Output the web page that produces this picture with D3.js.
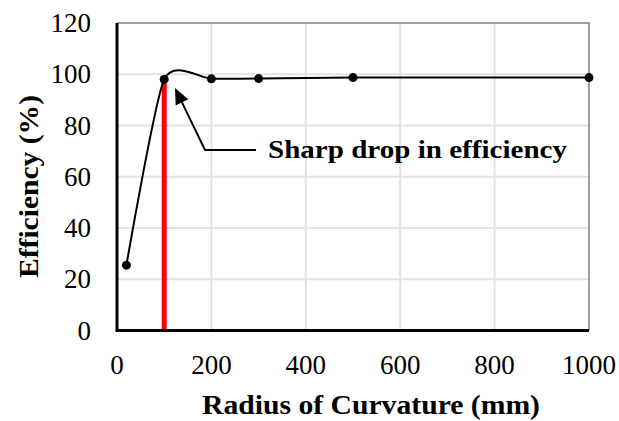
<!DOCTYPE html>
<html><head><meta charset="utf-8">
<script src="https://cdn.jsdelivr.net/npm/d3@7"></script>
<style>html,body{margin:0;padding:0;background:#fff;}svg{display:block;}</style>
</head><body>
<svg id="c" width="619" height="421"></svg>
<script>
const radius = [20, 100, 200, 300, 500, 1000];
const efficiency = [25.5, 98, 98.2, 98.3, 98.7, 98.7];
const xTicks = [0, 200, 400, 600, 800, 1000];
const yTicks = [0, 20, 40, 60, 80, 100, 120];
const markerX = 100;
const annotation = "Sharp drop in efficiency";
const xTitle = "Radius of Curvature (mm)";
const yTitle = "Efficiency (%)";

const svg = d3.select("#c");
const L = 117, R = 589, T = 23, B = 330.5;
const x = d3.scaleLinear().domain([0, 1000]).range([L, R]);
const y = d3.scaleLinear().domain([0, 120]).range([B, T]);
const font = "'Liberation Serif','Times New Roman',serif";

// gridlines
svg.append("g").selectAll("line").data(xTicks.slice(1, -1)).join("line")
  .attr("x1", d => x(d)).attr("x2", d => x(d)).attr("y1", T).attr("y2", B)
  .attr("stroke", "#e3e3e3").attr("stroke-width", 2);
svg.append("g").selectAll("line").data(yTicks.slice(1, -1)).join("line")
  .attr("y1", d => y(d)).attr("y2", d => y(d)).attr("x1", L).attr("x2", R)
  .attr("stroke", "#e3e3e3").attr("stroke-width", 2);

// top/right border
svg.append("path").attr("d", `M${L},${T}H${R}V${B}`).attr("fill", "none")
  .attr("stroke", "#7f7f7f").attr("stroke-width", 1.5);

// red vertical line
const iMark = radius.indexOf(markerX);
svg.append("line").attr("x1", x(markerX)).attr("x2", x(markerX))
  .attr("y1", y(0)).attr("y2", y(efficiency[iMark]))
  .attr("stroke", "#ff0000").attr("stroke-width", 5);

// axes (thick black left & bottom)
svg.append("path").attr("d", `M${L},${T}V${B}H${R}`).attr("fill", "none")
  .attr("stroke", "#000").attr("stroke-width", 3);

// smooth line
const pts = radius.map((r, i) => [x(r), y(efficiency[i])]);
svg.append("path").attr("d", d3.line().curve(d3.curveCardinal.tension(0.35))(pts))
  .attr("fill", "none").attr("stroke", "#000").attr("stroke-width", 2);
svg.append("g").selectAll("circle").data(pts).join("circle")
  .attr("cx", d => d[0]).attr("cy", d => d[1]).attr("r", 4.5).attr("fill", "#000");

// tick labels
svg.append("g").selectAll("text").data(yTicks).join("text")
  .attr("x", 91).attr("y", d => y(d) + 9).attr("text-anchor", "end")
  .attr("font-family", font).attr("font-size", 27).text(d => d);
svg.append("g").selectAll("text").data(xTicks).join("text")
  .attr("x", d => x(d)).attr("y", 374).attr("text-anchor", "middle")
  .attr("font-family", font).attr("font-size", 27).text(d => d);

// axis titles
svg.append("text").attr("x", 202).attr("y", 414)
  .attr("textLength", 338).attr("lengthAdjust", "spacingAndGlyphs")
  .attr("font-family", font).attr("font-weight", "bold").attr("font-size", 27).text(xTitle);
svg.append("text").attr("transform", "translate(38,278) rotate(-90)")
  .attr("textLength", 183).attr("lengthAdjust", "spacingAndGlyphs")
  .attr("font-family", font).attr("font-weight", "bold").attr("font-size", 27).text(yTitle);

// annotation arrow
const tip = [175, 88];
const elbow = [205, 150];
const endp = [256, 150];
const ang = Math.atan2(elbow[1] - tip[1], elbow[0] - tip[0]);
const hl = 16, hw = 7;
const bx = tip[0] + hl * Math.cos(ang), by = tip[1] + hl * Math.sin(ang);
svg.append("path").attr("d", `M${bx},${by}L${elbow[0]},${elbow[1]}H${endp[0]}`)
  .attr("fill", "none").attr("stroke", "#000").attr("stroke-width", 2);
svg.append("path").attr("d",
  `M${tip[0]},${tip[1]}L${bx + hw * Math.sin(ang)},${by - hw * Math.cos(ang)}L${bx - hw * Math.sin(ang)},${by + hw * Math.cos(ang)}Z`)
  .attr("fill", "#000");
svg.append("text").attr("x", 268).attr("y", 158)
  .attr("textLength", 299).attr("lengthAdjust", "spacingAndGlyphs")
  .attr("font-family", font).attr("font-weight", "bold").attr("font-size", 26).text(annotation);
</script>
</body></html>
